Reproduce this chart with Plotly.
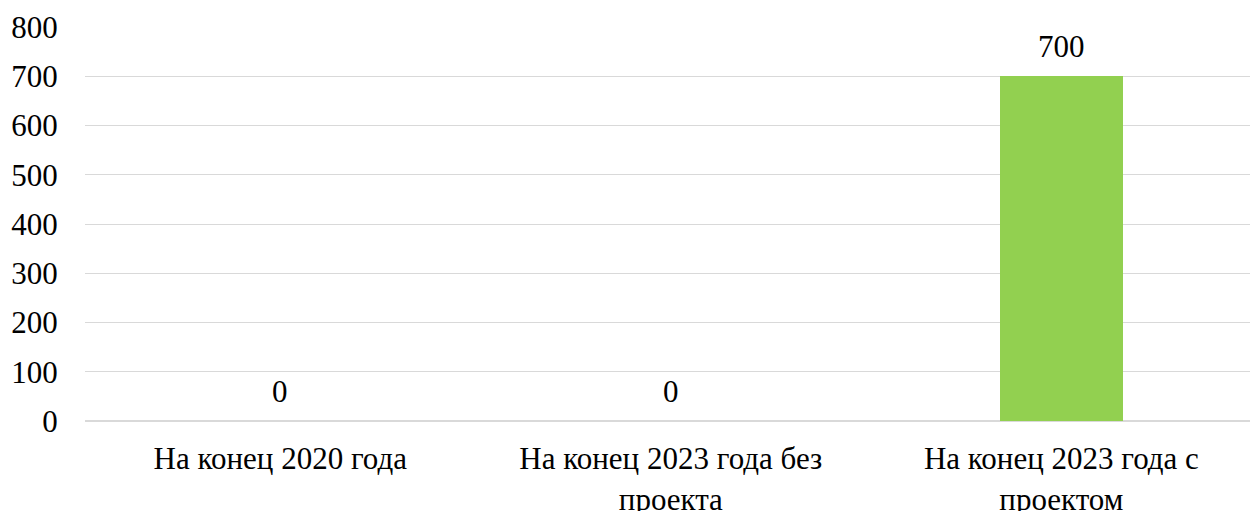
import plotly.graph_objects as go

# Category labels and values
categories = ["На конец 2020 года", "На конец 2023 года без<br>проекта", "На конец 2023 года с<br>проектом"]
values = [0, 0, 700]
y_ticks = [0, 100, 200, 300, 400, 500, 600, 700, 800]

FONT = dict(family="Liberation Serif, Times New Roman, serif", size=31, color="#000000")
x_pos = list(range(len(categories)))

fig = go.Figure()
fig.add_trace(go.Bar(
    x=x_pos,
    y=values,
    width=0.315,
    marker=dict(color="#92D050", line=dict(width=0)),
    hoverinfo="skip",
))

# Value labels above each bar
for xi, v in zip(x_pos, values):
    fig.add_annotation(
        x=xi, y=v, text=str(v), showarrow=False,
        yanchor="bottom", yshift=10, font=FONT,
    )

fig.update_layout(
    width=1250, height=511,
    margin=dict(l=85, r=0, t=27, b=90),
    paper_bgcolor="white", plot_bgcolor="white",
    showlegend=False,
    font=FONT,
    bargap=0,
)
fig.update_xaxes(
    tickvals=x_pos, ticktext=categories,
    range=[-0.5, 2.483],
    showgrid=False, zeroline=False, showline=False,
    ticks="outside", ticklen=10, tickcolor="rgba(0,0,0,0)",
    tickfont=FONT, automargin=False,
)
fig.update_yaxes(
    range=[0, 800], tickvals=y_ticks,
    showgrid=True, gridcolor="#D9D9D9", gridwidth=1.3,
    zeroline=True, zerolinecolor="#D9D9D9", zerolinewidth=1.5,
    showline=False,
    ticks="outside", ticklen=20, tickcolor="rgba(0,0,0,0)",
    tickfont=FONT, automargin=False,
)

fig.write_html("out.html")
